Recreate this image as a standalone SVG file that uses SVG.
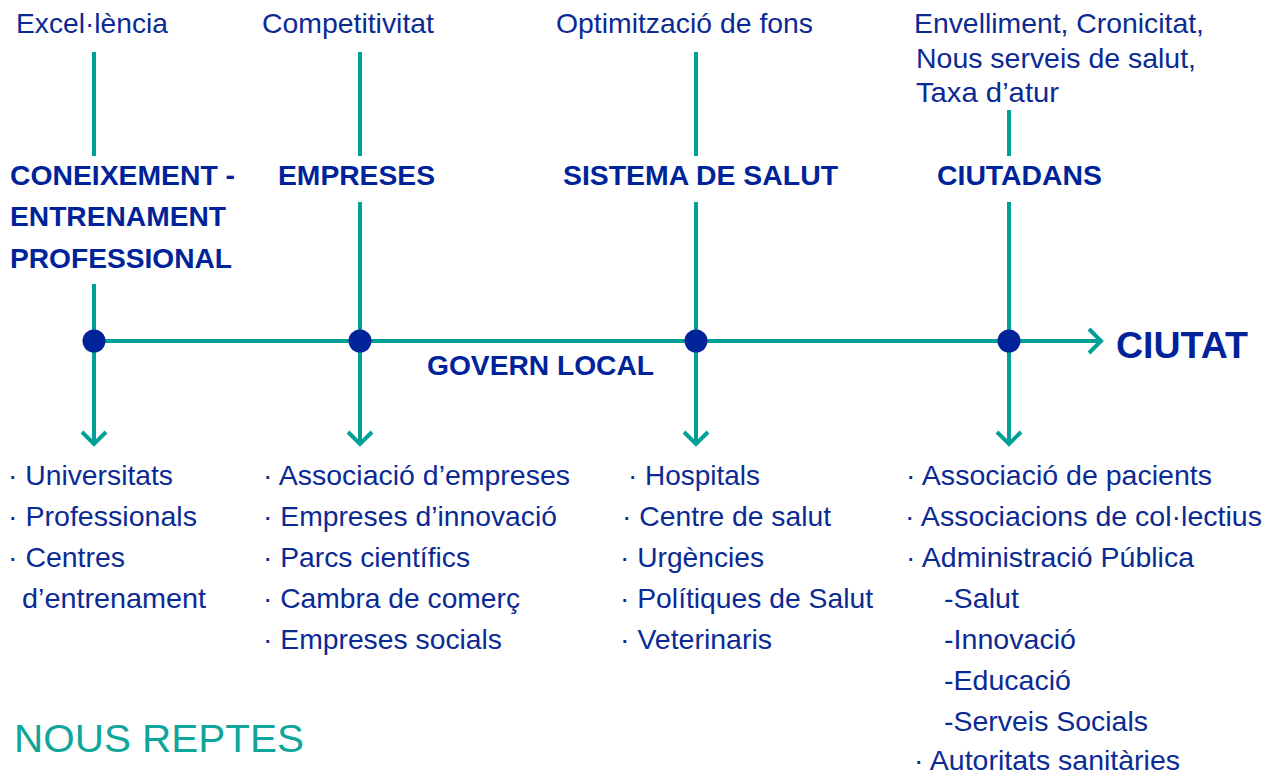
<svg xmlns="http://www.w3.org/2000/svg" width="1276" height="775" viewBox="0 0 1276 775">
<style>
.t{font-family:"Liberation Sans",Arial,sans-serif;font-size:28px;fill:#0B2A94}
.h{font-family:"Liberation Sans",Arial,sans-serif;font-size:28px;font-weight:bold;fill:#00239A}
.ln{stroke:#00A096;stroke-width:4;fill:none}
.dot{fill:#00239A}
</style>
<rect width="1276" height="775" fill="#ffffff"/>
<g id="connectors">
<line class="ln" x1="94" y1="52" x2="94" y2="156"/>
<line class="ln" x1="94" y1="284" x2="94" y2="443"/>
<line class="ln" x1="360" y1="52" x2="360" y2="156"/>
<line class="ln" x1="360" y1="202" x2="360" y2="443"/>
<line class="ln" x1="696" y1="52" x2="696" y2="156"/>
<line class="ln" x1="696" y1="202" x2="696" y2="443"/>
<line class="ln" x1="1009" y1="110" x2="1009" y2="156"/>
<line class="ln" x1="1009" y1="202" x2="1009" y2="443"/>
<line class="ln" x1="94" y1="341" x2="1100" y2="341"/>
<polyline class="ln" points="82,432 94,444 106,432"/>
<polyline class="ln" points="348,432 360,444 372,432"/>
<polyline class="ln" points="684,432 696,444 708,432"/>
<polyline class="ln" points="997,432 1009,444 1021,432"/>
<polyline class="ln" points="1089,329 1101,341 1089,353"/>
</g>
<g id="node-coneixement">
<text class="t" x="16" y="33" textLength="152" lengthAdjust="spacingAndGlyphs">Excel·lència</text>
<text class="h" x="10" y="185" textLength="225" lengthAdjust="spacingAndGlyphs">CONEIXEMENT -</text>
<text class="h" x="10" y="226" textLength="216" lengthAdjust="spacingAndGlyphs">ENTRENAMENT</text>
<text class="h" x="10" y="268" textLength="222" lengthAdjust="spacingAndGlyphs">PROFESSIONAL</text>
<circle class="dot" cx="94" cy="341" r="11.5"/>
<text class="t" x="8" y="485" textLength="165" lengthAdjust="spacingAndGlyphs">· Universitats</text>
<text class="t" x="8" y="526" textLength="189" lengthAdjust="spacingAndGlyphs">· Professionals</text>
<text class="t" x="8" y="567" textLength="117" lengthAdjust="spacingAndGlyphs">· Centres</text>
<text class="t" x="22" y="608" textLength="184" lengthAdjust="spacingAndGlyphs">d’entrenament</text>
</g>
<g id="node-empreses">
<text class="t" x="262" y="33" textLength="172" lengthAdjust="spacingAndGlyphs">Competitivitat</text>
<text class="h" x="278" y="185" textLength="157" lengthAdjust="spacingAndGlyphs">EMPRESES</text>
<circle class="dot" cx="360" cy="341" r="11.5"/>
<text class="t" x="263" y="485" textLength="307" lengthAdjust="spacingAndGlyphs">· Associació d’empreses</text>
<text class="t" x="263" y="526" textLength="294" lengthAdjust="spacingAndGlyphs">· Empreses d’innovació</text>
<text class="t" x="263" y="567" textLength="207" lengthAdjust="spacingAndGlyphs">· Parcs científics</text>
<text class="t" x="263" y="608" textLength="257" lengthAdjust="spacingAndGlyphs">· Cambra de comerç</text>
<text class="t" x="263" y="649" textLength="239" lengthAdjust="spacingAndGlyphs">· Empreses socials</text>
</g>
<g id="node-salut">
<text class="t" x="556" y="33" textLength="257" lengthAdjust="spacingAndGlyphs">Optimització de fons</text>
<text class="h" x="563" y="185" textLength="275" lengthAdjust="spacingAndGlyphs">SISTEMA DE SALUT</text>
<circle class="dot" cx="696" cy="341" r="11.5"/>
<text class="t" x="628" y="485" textLength="132" lengthAdjust="spacingAndGlyphs">· Hospitals</text>
<text class="t" x="622" y="526" textLength="209" lengthAdjust="spacingAndGlyphs">· Centre de salut</text>
<text class="t" x="620" y="567" textLength="144" lengthAdjust="spacingAndGlyphs">· Urgències</text>
<text class="t" x="620" y="608" textLength="253" lengthAdjust="spacingAndGlyphs">· Polítiques de Salut</text>
<text class="t" x="620" y="649" textLength="152" lengthAdjust="spacingAndGlyphs">· Veterinaris</text>
</g>
<g id="node-ciutadans">
<text class="t" x="914" y="33" textLength="290" lengthAdjust="spacingAndGlyphs">Envelliment, Cronicitat,</text>
<text class="t" x="916" y="68" textLength="280" lengthAdjust="spacingAndGlyphs">Nous serveis de salut,</text>
<text class="t" x="916" y="102" textLength="143" lengthAdjust="spacingAndGlyphs">Taxa d’atur</text>
<text class="h" x="937" y="185" textLength="165" lengthAdjust="spacingAndGlyphs">CIUTADANS</text>
<circle class="dot" cx="1009" cy="341" r="11.5"/>
<text class="t" x="906" y="485" textLength="306" lengthAdjust="spacingAndGlyphs">· Associació de pacients</text>
<text class="t" x="905" y="526" textLength="357" lengthAdjust="spacingAndGlyphs">· Associacions de col·lectius</text>
<text class="t" x="906" y="567" textLength="288" lengthAdjust="spacingAndGlyphs">· Administració Pública</text>
<text class="t" x="944" y="608" textLength="75" lengthAdjust="spacingAndGlyphs">-Salut</text>
<text class="t" x="944" y="649" textLength="132" lengthAdjust="spacingAndGlyphs">-Innovació</text>
<text class="t" x="944" y="690" textLength="127" lengthAdjust="spacingAndGlyphs">-Educació</text>
<text class="t" x="944" y="731" textLength="204" lengthAdjust="spacingAndGlyphs">-Serveis Socials</text>
<text class="t" x="914" y="770" textLength="266" lengthAdjust="spacingAndGlyphs">· Autoritats sanitàries</text>
</g>
<g id="node-govern">
<text class="h" x="427" y="375" textLength="227" lengthAdjust="spacingAndGlyphs">GOVERN LOCAL</text>
</g>
<g id="node-ciutat">
<text class="h" x="1116" y="358" style="font-size:36px" textLength="132" lengthAdjust="spacingAndGlyphs">CIUTAT</text>
</g>
<g id="title">
<text x="14" y="752" style="font-family:'Liberation Sans',Arial,sans-serif;font-size:39px;fill:#10A59A" textLength="290" lengthAdjust="spacingAndGlyphs">NOUS REPTES</text>
</g>
</svg>
